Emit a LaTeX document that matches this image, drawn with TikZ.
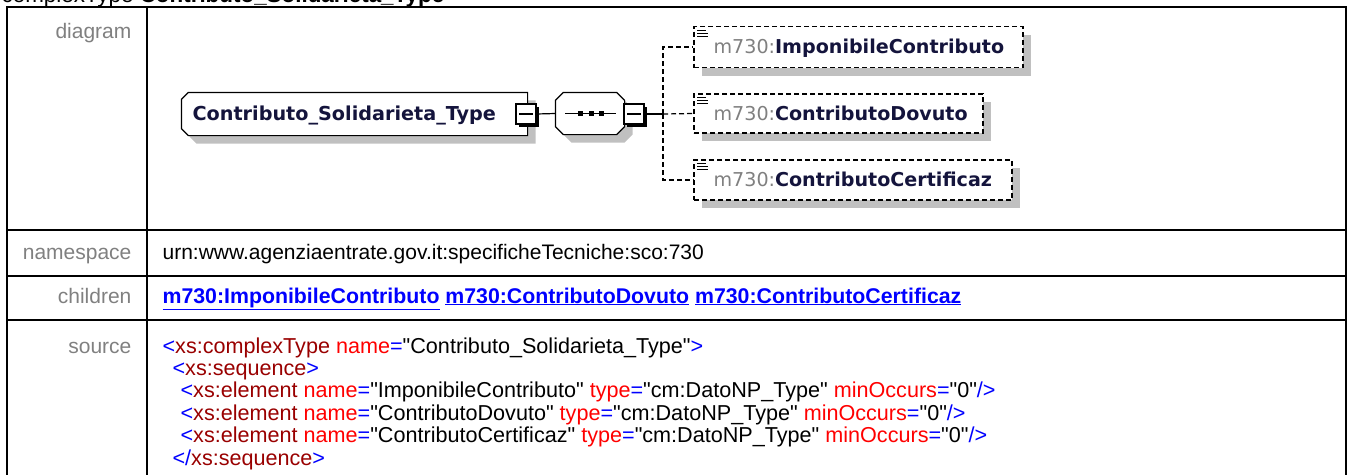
\documentclass[tikz,border=0pt]{standalone}
\usepackage{fontspec}
\setmainfont{Liberation Sans}
\newfontfamily\srcfont{Liberation Sans}
\newfontfamily\diafont{DejaVu Sans}
\usetikzlibrary{shadows}
\definecolor{lblgray}{HTML}{808080}
\definecolor{xmlblue}{HTML}{0000FF}
\definecolor{xmltag}{HTML}{990000}
\definecolor{xmlattr}{HTML}{FF0000}
\definecolor{typenavy}{HTML}{14143C}
\definecolor{shadegray}{HTML}{C0C0C0}
\newcommand{\tabfont}{\fontsize{21}{22.4}\selectfont}
\newcommand{\xb}[1]{\textcolor{xmlblue}{#1}}
\newcommand{\xt}[1]{\textcolor{xmltag}{#1}}
\newcommand{\xa}[1]{\textcolor{xmlattr}{#1}}

\begin{document}
\begin{tikzpicture}[x=1pt,y=-1pt,line width=1.2pt,
  grid/.style={line width=2.5pt},
  lbl/.style={anchor=base east,inner sep=0pt,text=lblgray,font=\tabfont},
  val/.style={anchor=base west,inner sep=0pt,font=\tabfont},
  src/.style={anchor=base west,inner sep=0pt,font=\srcfont\fontsize{21.6}{22.4}\selectfont},
  gshadow/.style={drop shadow={shadow xshift=8pt,shadow yshift=-8pt,fill=shadegray,opacity=1}},
  frame/.style={inner sep=0pt},
  minusbox/.style={draw,fill=white,minimum size=20pt,inner sep=0pt,
    drop shadow={shadow xshift=2.5pt,shadow yshift=-2.5pt,fill=black,opacity=1}},
  elem/.style={draw,dash pattern=on 5pt off 3pt,fill=white,inner sep=0pt,gshadow},
  conn/.style={dash pattern=on 5pt off 3pt},
  ename/.style={anchor=base west,inner sep=0pt,font=\diafont\fontsize{19.1}{19}\selectfont},
  lsticon/.style={line width=0.8pt}]
\useasboundingbox (0,0) rectangle (1349,474);
\clip (0,0) rectangle (1349,474);
% ================ 标题（上方被裁切） ================
\node[val,font=\fontsize{22.4}{24}\selectfont] (title) at (1,2.5) {complexType \textbf{Contributo\_Solidarieta\_Type}};
% ================ 表格框线 ================
\draw[grid] (7,490) -- (7,7) -- (1346,7) -- (1346,490);
\draw[grid] (147,7) -- (147,490);
\foreach \y in {230,276,320}{\draw[grid] (7,\y) -- (1346,\y);}
% 左列标签
\node[lbl] (ldiagram) at (132,38) {diagram};
\node[lbl] (lnamespace) at (132,259) {namespace};
\node[lbl] (lchildren) at (132,303) {children};
\node[lbl] (lsource) at (132,353) {source};
% ================ diagram ================
% 复杂类型框（左侧切角）
\node[frame,minimum width=345pt,minimum height=42pt] (ctype) at (354.5,114) {};
\draw[fill=white,gshadow] ([xshift=7pt]ctype.north west) -- (ctype.north east) -- (ctype.south east)
  -- ([xshift=7pt]ctype.south west) -- ([yshift=7pt]ctype.south west) -- ([yshift=-7pt]ctype.north west) -- cycle;
\node[ename,font=\diafont\bfseries\fontsize{19.2}{19}\selectfont,text=typenavy] (ctypelbl) at (192,120) {Contributo\_Solidarieta\_Type};
\node[minusbox] (m1) at (526,114) {};
\draw ([xshift=4pt]m1.west) -- ([xshift=-4pt]m1.east);
% sequence 框（八角）
\node[frame,minimum width=68pt,minimum height=41pt] (seq) at (590,113.5) {};
\draw[fill=white,gshadow] ([xshift=8pt]seq.north west) -- ([xshift=-8pt]seq.north east) -- ([yshift=-8pt]seq.north east)
  -- ([yshift=8pt]seq.south east) -- ([xshift=-8pt]seq.south east) -- ([xshift=8pt]seq.south west)
  -- ([yshift=8pt]seq.south west) -- ([yshift=-8pt]seq.north west) -- cycle;
\draw (m1.east) -- (seq.west);
\draw ([xshift=10pt]seq.west) -- ([xshift=-9pt]seq.east);
\foreach \x in {580,591,601}{\fill (\x-2.5,111) rectangle (\x+2.5,116);}
\node[minusbox] (m2) at (634,114) {};
\draw ([xshift=4pt]m2.west) -- ([xshift=-4pt]m2.east);
% 子元素（可选，虚线框）
\node[elem,minimum width=329pt,minimum height=41pt] (e1) at (858.5,47) {};
\node[elem,minimum width=289pt,minimum height=39pt] (e2) at (838.5,113.5) {};
\node[elem,minimum width=318pt,minimum height=40pt] (e3) at (853,180) {};
\foreach \e in {e1,e2,e3}{
  \draw[lsticon] ([xshift=4pt,yshift=-4pt]\e.north west) -- ++(9,0);
  \draw[lsticon] ([xshift=4pt,yshift=-7pt]\e.north west) -- ++(11,0);
  \draw[lsticon] ([xshift=4pt,yshift=-10pt]\e.north west) -- ++(11,0);
}
\node[ename] (e1lbl) at (713,53) {\textcolor{lblgray}{m730:}\textcolor{typenavy}{\bfseries ImponibileContributo}};
\node[ename] (e2lbl) at (713,120) {\textcolor{lblgray}{m730:}\textcolor{typenavy}{\bfseries ContributoDovuto}};
\node[ename] (e3lbl) at (713,186) {\textcolor{lblgray}{m730:}\textcolor{typenavy}{\bfseries ContributoCertificaz}};
% 分叉连线
\coordinate (fork) at (663,114);
\draw (m2.east) -- (fork);
\draw[conn] (fork) |- (e1.west);
\draw[conn] (fork) -- (e2.west);
\draw[conn] (fork) |- (e3.west);
% ================ namespace / children ================
\node[val] (nsval) at (162,259) {urn:www.agenziaentrate.gov.it:specificheTecniche:sco:730};
\node[val,text=xmlblue,font=\fontsize{21.3}{22.4}\selectfont\bfseries] (chval) at (162,303)
  {\underline{m730:ImponibileContributo} \underline{m730:ContributoDovuto} \underline{m730:ContributoCertificaz}};
% ================ source ================
\node[src] (src1) at (162,353) {\xb{<}\xt{xs:complexType} \xa{name}\xb{=}"Contributo\_Solidarieta\_Type"\xb{>}};
\node[src] (src2) at (172,375.4) {\xb{<}\xt{xs:sequence}\xb{>}};
\node[src] (src3) at (180,397.8) {\xb{<}\xt{xs:element} \xa{name}\xb{=}"ImponibileContributo" \xa{type}\xb{=}"cm:DatoNP\_Type" \xa{minOccurs}\xb{=}"0"\xb{/>}};
\node[src] (src4) at (180,420.2) {\xb{<}\xt{xs:element} \xa{name}\xb{=}"ContributoDovuto" \xa{type}\xb{=}"cm:DatoNP\_Type" \xa{minOccurs}\xb{=}"0"\xb{/>}};
\node[src] (src5) at (180,442.6) {\xb{<}\xt{xs:element} \xa{name}\xb{=}"ContributoCertificaz" \xa{type}\xb{=}"cm:DatoNP\_Type" \xa{minOccurs}\xb{=}"0"\xb{/>}};
\node[src] (src6) at (172,465) {\xb{</}\xt{xs:sequence}\xb{>}};
\end{tikzpicture}
\end{document}
